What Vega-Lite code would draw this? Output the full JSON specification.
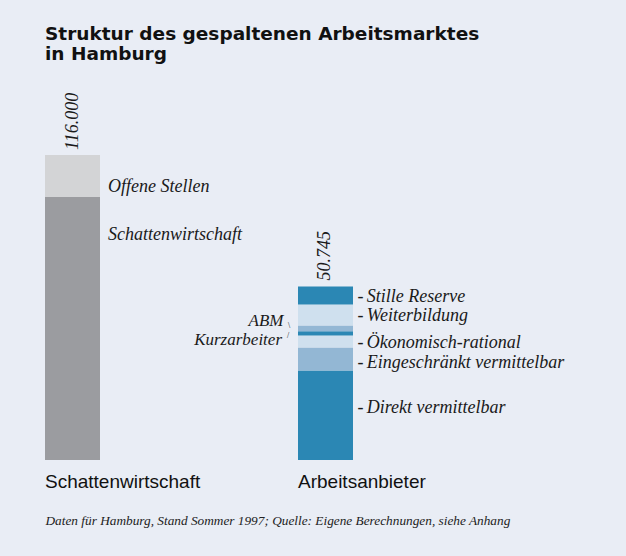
{
  "$schema": "https://vega.github.io/schema/vega-lite/v6.json",
  "width": 308,
  "height": 305,
  "autosize": {"type": "none"},
  "padding": {"left": 45, "top": 155, "right": 273, "bottom": 96},
  "background": "#e9edf5",
  "title": {
    "text": ["Struktur des gespaltenen Arbeitsmarktes", "in Hamburg"],
    "anchor": "start",
    "frame": "group",
    "font": "DejaVu Sans",
    "fontWeight": "bold",
    "fontSize": 18.5,
    "lineHeight": 20,
    "color": "#111111",
    "offset": 29
  },
  "data": {
    "values": [
      {"gruppe": "Schattenwirtschaft", "segment": "Schattenwirtschaft", "wert": 100000, "rang": 1},
      {"gruppe": "Schattenwirtschaft", "segment": "Offene Stellen", "wert": 16000, "rang": 2},
      {"gruppe": "Arbeitsanbieter", "segment": "Direkt vermittelbar", "wert": 26176, "rang": 1},
      {"gruppe": "Arbeitsanbieter", "segment": "Eingeschränkt vermittelbar", "wert": 6727, "rang": 2},
      {"gruppe": "Arbeitsanbieter", "segment": "Ökonomisch-rational", "wert": 3510, "rang": 3},
      {"gruppe": "Arbeitsanbieter", "segment": "Kurzarbeiter", "wert": 1258, "rang": 4},
      {"gruppe": "Arbeitsanbieter", "segment": "ABM", "wert": 1667, "rang": 5},
      {"gruppe": "Arbeitsanbieter", "segment": "Weiterbildung", "wert": 6142, "rang": 6},
      {"gruppe": "Arbeitsanbieter", "segment": "Stille Reserve", "wert": 5265, "rang": 7}
    ]
  },
  "transform": [
    {"stack": "wert", "groupby": ["gruppe"], "sort": [{"field": "rang", "order": "ascending"}], "as": ["y0", "y1"]}
  ],
  "encoding": {
    "x": {
      "field": "gruppe",
      "type": "nominal",
      "scale": {"domain": ["Schattenwirtschaft", "Arbeitsanbieter"], "paddingInner": 0.7826, "paddingOuter": 0, "align": 0},
      "axis": {
        "title": "Daten für Hamburg, Stand Sommer 1997; Quelle: Eigene Berechnungen, siehe Anhang",
        "labelAngle": 0,
        "labelOffset": -27.5,
        "labelAlign": "left",
        "labelBaseline": "top",
        "domain": false,
        "ticks": false,
        "tickSize": 0,
        "grid": false,
        "labelPadding": 12,
        "labelFont": "Liberation Sans",
        "labelFontSize": 19,
        "labelColor": "#111111",
        "labelLimit": 400,
        "labelFlush": false,
        "titleFont": "Liberation Serif",
        "titleFontStyle": "italic",
        "titleFontWeight": "normal",
        "titleFontSize": 13.3,
        "titleColor": "#222222",
        "titlePadding": 22,
        "titleAnchor": "start"
      }
    }
  },
  "layer": [
    {
      "transform": [{"filter": {"field": "gruppe", "equal": "Schattenwirtschaft"}}],
      "layer": [
        {
          "mark": {"type": "bar"},
          "encoding": {
            "y": {"field": "y0", "type": "quantitative", "scale": {"domain": [0, 116000], "nice": false}, "axis": null},
            "y2": {"field": "y1"},
            "color": {
              "field": "segment",
              "type": "nominal",
              "legend": null,
              "scale": {
                "domain": ["Offene Stellen", "Schattenwirtschaft", "Stille Reserve", "Weiterbildung", "ABM", "Kurzarbeiter", "Ökonomisch-rational", "Eingeschränkt vermittelbar", "Direkt vermittelbar"],
                "range": ["#d3d4d6", "#9b9ca0", "#2b87b4", "#cfe0ee", "#93b7d4", "#2b87b4", "#cfe0ee", "#93b7d4", "#2b87b4"]
              }
            }
          }
        },
        {
          "transform": [{"filter": {"field": "segment", "equal": "Offene Stellen"}}],
          "mark": {"type": "text", "align": "left", "baseline": "middle", "dx": 35.5, "dy": 31.5, "font": "Liberation Serif", "fontStyle": "italic", "fontSize": 18, "color": "#1a1a1a"},
          "encoding": {
            "y": {"field": "y1", "type": "quantitative", "scale": {"domain": [0, 116000], "nice": false}, "axis": null},
            "text": {"field": "segment"}
          }
        },
        {
          "transform": [{"filter": {"field": "segment", "equal": "Schattenwirtschaft"}}],
          "mark": {"type": "text", "align": "left", "baseline": "middle", "dx": 35.5, "dy": 37.5, "font": "Liberation Serif", "fontStyle": "italic", "fontSize": 18, "color": "#1a1a1a"},
          "encoding": {
            "y": {"field": "y1", "type": "quantitative", "scale": {"domain": [0, 116000], "nice": false}, "axis": null},
            "text": {"field": "segment"}
          }
        },
        {
          "transform": [{"aggregate": [{"op": "sum", "field": "wert", "as": "gesamt"}], "groupby": ["gruppe"]}],
          "mark": {"type": "text", "angle": 270, "align": "left", "baseline": "middle", "dx": 5, "font": "Liberation Serif", "fontStyle": "italic", "fontSize": 18, "color": "#1a1a1a"},
          "encoding": {
            "y": {"field": "gesamt", "type": "quantitative", "scale": {"domain": [0, 116000], "nice": false}, "axis": null},
            "text": {"field": "gesamt", "type": "quantitative", "format": ",d"}
          }
        }
      ]
    },
    {
      "transform": [{"filter": {"field": "gruppe", "equal": "Arbeitsanbieter"}}],
      "layer": [
        {
          "mark": {"type": "bar"},
          "encoding": {
            "y": {"field": "y0", "type": "quantitative", "scale": {"domain": [0, 89206], "nice": false}, "axis": null},
            "y2": {"field": "y1"},
            "color": {"field": "segment", "type": "nominal", "legend": null}
          }
        },
        {
          "transform": [
            {"fold": ["y0", "y1"], "as": ["grenze", "stelle"]},
            {"aggregate": [{"op": "mean", "field": "stelle", "as": "mitte"}], "groupby": ["gruppe", "segment"]}
          ],
          "encoding": {
            "y": {"field": "mitte", "type": "quantitative", "scale": {"domain": [0, 89206], "nice": false}, "axis": null}
          },
          "layer": [
            {
              "transform": [{"filter": {"field": "segment", "oneOf": ["Stille Reserve", "Weiterbildung", "Ökonomisch-rational"]}}],
              "layer": [
                {
                  "mark": {"type": "text", "align": "left", "baseline": "middle", "dx": 41.2, "dy": 1, "font": "Liberation Serif", "fontStyle": "italic", "fontSize": 18, "color": "#1a1a1a"},
                  "encoding": {"text": {"field": "segment"}}
                },
                {
                  "mark": {"type": "text", "align": "left", "baseline": "middle", "dx": 32, "dy": 1, "font": "Liberation Serif", "fontSize": 18, "color": "#1a1a1a"},
                  "encoding": {"text": {"value": "-"}}
                }
              ]
            },
            {
              "transform": [{"filter": {"field": "segment", "equal": "Eingeschränkt vermittelbar"}}],
              "layer": [
                {
                  "mark": {"type": "text", "align": "left", "baseline": "middle", "dx": 41.2, "dy": 4, "font": "Liberation Serif", "fontStyle": "italic", "fontSize": 18, "color": "#1a1a1a"},
                  "encoding": {"text": {"field": "segment"}}
                },
                {
                  "mark": {"type": "text", "align": "left", "baseline": "middle", "dx": 32, "dy": 4, "font": "Liberation Serif", "fontSize": 18, "color": "#1a1a1a"},
                  "encoding": {"text": {"value": "-"}}
                }
              ]
            },
            {
              "transform": [{"filter": {"field": "segment", "equal": "Direkt vermittelbar"}}],
              "layer": [
                {
                  "mark": {"type": "text", "align": "left", "baseline": "middle", "dx": 41.2, "dy": -7, "font": "Liberation Serif", "fontStyle": "italic", "fontSize": 18, "color": "#1a1a1a"},
                  "encoding": {"text": {"field": "segment"}}
                },
                {
                  "mark": {"type": "text", "align": "left", "baseline": "middle", "dx": 32, "dy": -7, "font": "Liberation Serif", "fontSize": 18, "color": "#1a1a1a"},
                  "encoding": {"text": {"value": "-"}}
                }
              ]
            },
            {
              "transform": [{"filter": {"field": "segment", "equal": "ABM"}}],
              "layer": [
                {
                  "mark": {"type": "text", "align": "right", "baseline": "middle", "dx": -42, "dy": -7.5, "font": "Liberation Serif", "fontStyle": "italic", "fontSize": 17, "color": "#1a1a1a"},
                  "encoding": {"text": {"field": "segment"}}
                },
                {
                  "mark": {"type": "text", "align": "center", "baseline": "middle", "dx": -36.5, "dy": -2, "font": "Liberation Serif", "fontSize": 8, "color": "#1a1a1a"},
                  "encoding": {"text": {"value": "\\"}}
                }
              ]
            },
            {
              "transform": [{"filter": {"field": "segment", "equal": "Kurzarbeiter"}}],
              "layer": [
                {
                  "mark": {"type": "text", "align": "right", "baseline": "middle", "dx": -43.5, "dy": 7, "font": "Liberation Serif", "fontStyle": "italic", "fontSize": 17, "color": "#1a1a1a"},
                  "encoding": {"text": {"field": "segment"}}
                },
                {
                  "mark": {"type": "text", "align": "center", "baseline": "middle", "dx": -37.5, "dy": 3, "font": "Liberation Serif", "fontSize": 8, "color": "#1a1a1a"},
                  "encoding": {"text": {"value": "/"}}
                }
              ]
            }
          ]
        },
        {
          "transform": [{"aggregate": [{"op": "sum", "field": "wert", "as": "gesamt"}], "groupby": ["gruppe"]}],
          "mark": {"type": "text", "angle": 270, "align": "left", "baseline": "middle", "dx": 6, "font": "Liberation Serif", "fontStyle": "italic", "fontSize": 18, "color": "#1a1a1a"},
          "encoding": {
            "y": {"field": "gesamt", "type": "quantitative", "scale": {"domain": [0, 89206], "nice": false}, "axis": null},
            "text": {"field": "gesamt", "type": "quantitative", "format": ",d"}
          }
        }
      ]
    }
  ],
  "resolve": {"scale": {"y": "independent"}},
  "config": {
    "view": {"stroke": null},
    "locale": {"number": {"decimal": ",", "thousands": ".", "grouping": [3], "currency": ["", " €"]}}
  }
}
